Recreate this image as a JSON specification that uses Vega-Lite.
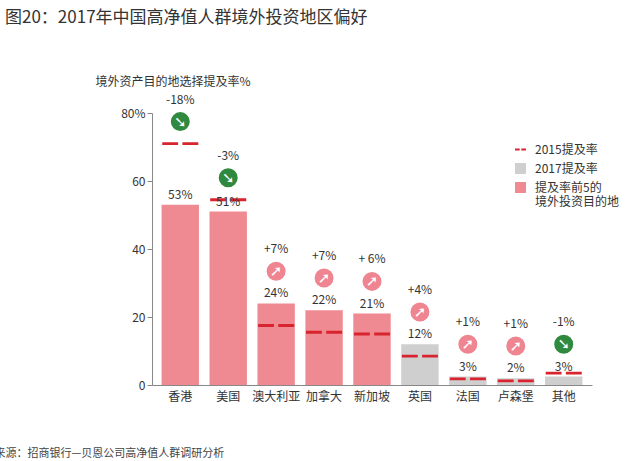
{
"$schema": "https://vega.github.io/schema/vega-lite/v6.json",
"autosize": {"type": "none"},
"padding": {"left": 152, "top": 113, "right": 48, "bottom": 76},
"width": 440,
"height": 272,
"background": "white",
"title": {"text": "图20：2017年中国高净值人群境外投资地区偏好", "anchor": "start", "frame": "group", "dx": -147, "offset": 48, "fontSize": 17, "fontWeight": "normal", "color": "#333333", "font": "Noto Sans CJK SC"},
"data": {"values": [
  {"place": "香港", "v2017": 53, "v2015": 71, "chg": "-18%", "dir": "down", "legend": "提及率前5的境外投资目的地"},
  {"place": "美国", "v2017": 51, "v2015": 54.5, "chg": "-3%", "dir": "down", "legend": "提及率前5的境外投资目的地"},
  {"place": "澳大利亚", "v2017": 24, "v2015": 17.5, "chg": "+7%", "dir": "up", "legend": "提及率前5的境外投资目的地"},
  {"place": "加拿大", "v2017": 22, "v2015": 15.5, "chg": "+7%", "dir": "up", "legend": "提及率前5的境外投资目的地"},
  {"place": "新加坡", "v2017": 21, "v2015": 15, "chg": "+ 6%", "dir": "up", "legend": "提及率前5的境外投资目的地"},
  {"place": "英国", "v2017": 12, "v2015": 8.5, "chg": "+4%", "dir": "up", "legend": "2017提及率"},
  {"place": "法国", "v2017": 2.5, "v2015": 1.8, "chg": "+1%", "dir": "up", "legend": "2017提及率", "lab": "3%"},
  {"place": "卢森堡", "v2017": 2, "v2015": 1.2, "chg": "+1%", "dir": "up", "legend": "2017提及率"},
  {"place": "其他", "v2017": 2.5, "v2015": 3.5, "chg": "-1%", "dir": "down", "legend": "2017提及率", "lab": "3%"}
]},
"transform": [
  {"calculate": "max(datum.v2015, datum.v2017 + 3)", "as": "top"},
  {"calculate": "datum.lab ? datum.lab : datum.v2017 + '%'", "as": "vlab"},
  {"calculate": "'2015提及率'", "as": "dash"}
],
"encoding": {
  "x": {"field": "place", "type": "nominal", "sort": null, "scale": {"paddingInner": 0.22, "paddingOuter": 0.2},
    "axis": {"labelAngle": 0, "ticks": false, "domainColor": "#888888", "labelFontSize": 12, "labelColor": "#333333", "labelFont": "Noto Sans CJK SC", "labelPadding": 6,
      "title": "来源：招商银行—贝恩公司高净值人群调研分析", "titleAnchor": "start", "titleX": -158, "titleY": 62, "titleAlign": "left", "titleFontSize": 11, "titleFontWeight": "normal", "titleColor": "#444444", "titleFont": "Noto Sans CJK SC"}}
},
"layer": [
  {"mark": {"type": "bar"},
   "encoding": {
     "y": {"field": "v2017", "type": "quantitative", "scale": {"domain": [0, 80]},
       "axis": {"values": [0, 20, 40, 60, 80], "grid": false, "labelExpr": "datum.value == 80 ? '80%' : datum.label", "domainColor": "#888888", "tickColor": "#888888", "labelFontSize": 12, "labelColor": "#333333",
         "title": "境外资产目的地选择提及率%", "titleAngle": 0, "titleAlign": "left", "titleBaseline": "middle", "titleX": -57, "titleY": -32, "titleFontSize": 12, "titleFontWeight": "normal", "titleColor": "#333333", "titleFont": "Noto Sans CJK SC"}},
     "color": {"field": "legend", "type": "nominal",
       "scale": {"domain": ["2015提及率", "2017提及率", "提及率前5的境外投资目的地"], "range": ["#d7242f", "#cfcfcf", "#f08a92"]},
       "legend": {"orient": "none", "legendX": 362, "legendY": 30, "title": null, "labelFontSize": 12, "labelColor": "#333333", "labelFont": "Noto Sans CJK SC", "symbolSize": 120, "rowPadding": 6, "labelOffset": 8,
         "labelExpr": "datum.label == '提及率前5的境外投资目的地' ? ['提及率前5的', '境外投资目的地'] : datum.label",
         "encode": {"symbols": {"update": {"shape": {"signal": "datum.label == '2015提及率' ? 'M-1,-0.2H-0.15V0.2H-1Z M0.15,-0.2H1V0.2H0.15Z' : 'square'"}}}}}}
   }},
  {"mark": {"type": "point", "filled": true, "opacity": 1, "size": 1300, "shape": "M-1,-0.08H-0.12V0.08H-1Z M0.12,-0.08H1V0.08H0.12Z"},
   "encoding": {
     "y": {"field": "v2015", "type": "quantitative"},
     "color": {"field": "dash", "type": "nominal"}
   }},
  {"mark": {"type": "text", "dy": -10, "fontSize": 12, "color": "#333333"},
   "encoding": {"y": {"field": "v2017", "type": "quantitative"}, "text": {"field": "vlab"}}},
  {"mark": {"type": "point", "filled": true, "opacity": 1, "size": 420, "shape": "circle", "yOffset": -22, "stroke": "white", "strokeWidth": 1.5},
   "encoding": {"y": {"field": "top", "type": "quantitative"},
     "fill": {"condition": {"test": "datum.dir == 'up'", "value": "#ee8590"}, "value": "#2f8a3f"}}},
  {"mark": {"type": "text", "yOffset": -22, "fontSize": 15, "fontWeight": "bold", "color": "white", "font": "DejaVu Sans", "baseline": "middle"},
   "encoding": {"y": {"field": "top", "type": "quantitative"},
     "text": {"condition": {"test": "datum.dir == 'up'", "value": "➚"}, "value": "➘"}}},
  {"mark": {"type": "text", "yOffset": -44, "fontSize": 12, "color": "#333333", "baseline": "middle"},
   "encoding": {"y": {"field": "top", "type": "quantitative"}, "text": {"field": "chg"}}}
],
"config": {"view": {"stroke": null}, "font": "Noto Sans CJK SC"}
}
